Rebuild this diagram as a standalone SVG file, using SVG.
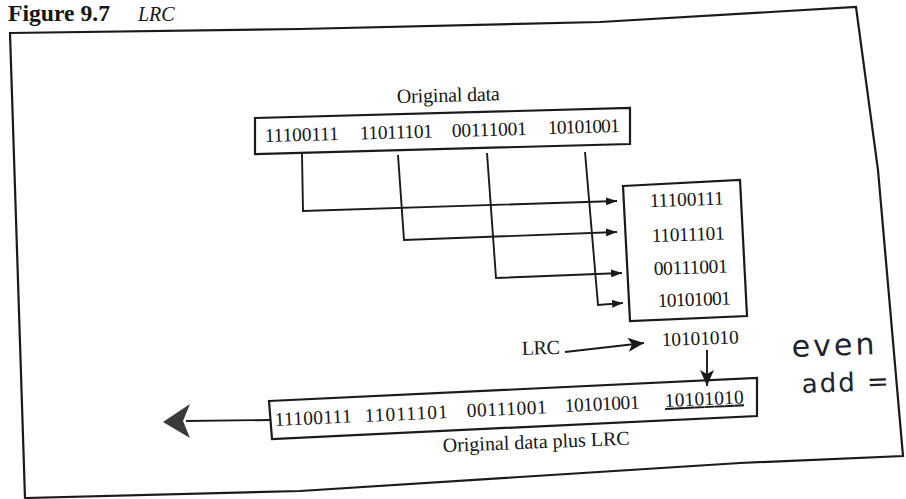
<svg xmlns="http://www.w3.org/2000/svg" width="906" height="499" viewBox="0 0 906 499">
<style>
.t{font-family:"Liberation Serif","Times New Roman",serif;fill:#161616}
.d{font-size:19.5px}
.l{font-size:20px}
.box{fill:none;stroke:#1a1a1a;stroke-width:2.2;stroke-linejoin:miter}
.c{fill:none;stroke:#1a1a1a;stroke-width:1.9}
.hw{font-family:"DejaVu Sans",sans-serif;fill:#22222c}
</style>
<defs>
<marker id="a" viewBox="0 0 11 8" refX="11" refY="4" markerWidth="11" markerHeight="8" orient="auto" markerUnits="userSpaceOnUse"><path d="M0,0 L11,4 L0,8 Z" fill="#1a1a1a"/></marker>
<marker id="b" viewBox="0 0 16 14" refX="16" refY="7" markerWidth="16" markerHeight="14" orient="auto" markerUnits="userSpaceOnUse"><path d="M0,0 L16,7 L0,14 L4,7 Z" fill="#1a1a1a"/></marker>
</defs>
<rect width="906" height="499" fill="#fff"/>
<g id="title">
<text class="t" x="8" y="21" font-size="23" font-weight="bold" textLength="102" lengthAdjust="spacingAndGlyphs">Figure 9.7</text>
<text class="t" x="138" y="21" font-size="20" font-style="italic">LRC</text>
</g>
<g id="frame">
<polygon class="box" stroke-width="1.8" points="10,33 300,29 600,22 856,7 878,170 903,456 740,463 300,491 25,498"/>
</g>
<g id="original-data">
<text class="t l" x="397" y="103" textLength="103" transform="rotate(-1.5 397 103)">Original data</text>
<polygon class="box" points="255,118 630,108 630,144 255,154"/>
<text class="t d" x="265" y="142" textLength="74" transform="rotate(-1.6 265 142)">11100111</text>
<text class="t d" x="360" y="139.5" textLength="73" transform="rotate(-1.6 360 139.5)">11011101</text>
<text class="t d" x="452" y="137" textLength="75" transform="rotate(-1.6 452 137)">00111001</text>
<text class="t d" x="548" y="134" textLength="72" transform="rotate(-1.6 548 134)">10101001</text>
</g>
<g id="lrc-table">
<polygon class="box" points="623,186 740,180 747,316 630,321"/>
<text class="t d" x="650" y="207" textLength="74" transform="rotate(-2 650 207)">11100111</text>
<text class="t d" x="652" y="242" textLength="73" transform="rotate(-2 652 242)">11011101</text>
<text class="t d" x="654" y="275" textLength="74" transform="rotate(-2 654 275)">00111001</text>
<text class="t d" x="658" y="307" textLength="73" transform="rotate(-2 658 307)">10101001</text>
</g>
<g id="lrc-label">
<text class="t l" x="522" y="355" textLength="38" transform="rotate(-2 522 355)">LRC</text>
</g>
<g id="lrc-value">
<text class="t d" x="662" y="346" textLength="77" transform="rotate(-2 662 346)">10101010</text>
</g>
<g id="data-plus-lrc">
<polygon class="box" points="269,401 757,378 757,416 272,439"/>
<text class="t d" x="275" y="426" textLength="77" transform="rotate(-2.7 275 426)">11100111</text>
<text class="t d" x="365" y="422" textLength="83" transform="rotate(-2.7 365 422)">11011101</text>
<text class="t d" x="467" y="417" textLength="80" transform="rotate(-2.7 467 417)">00111001</text>
<text class="t d" x="565" y="412" textLength="75" transform="rotate(-2.7 565 412)">10101001</text>
<text class="t d" x="665" y="407" textLength="79" transform="rotate(-2.7 665 407)" text-decoration="underline">10101010</text>
<text class="t l" x="443" y="452" textLength="187" transform="rotate(-2.2 443 452)">Original data plus LRC</text>
</g>
<g id="note">
<text class="hw" x="792" y="357" font-size="30" letter-spacing="3" transform="rotate(-2 792 357)">even</text>
<text class="hw" x="802" y="393" font-size="26" letter-spacing="2" transform="rotate(-2 802 393)">add =</text>
</g>
<g id="connectors">
<polyline class="c" points="302,154 303,211 617,201" marker-end="url(#a)"/>
<polyline class="c" points="398,155 404,240 617,232" marker-end="url(#a)"/>
<polyline class="c" points="487,153 496,278 622,273" marker-end="url(#a)"/>
<polyline class="c" points="585,152 598,305 623,303" marker-end="url(#a)"/>
<line class="c" x1="565" y1="352" x2="644" y2="343" marker-end="url(#b)"/>
<line class="c" x1="707" y1="350" x2="707" y2="386" marker-end="url(#b)"/>
<line class="c" x1="270" y1="420" x2="186" y2="421" stroke-width="4.5"/>
<path d="M163,422 L190,404 L183,421 L190,438 Z" fill="#3a3a3a"/>
</g>
</svg>
